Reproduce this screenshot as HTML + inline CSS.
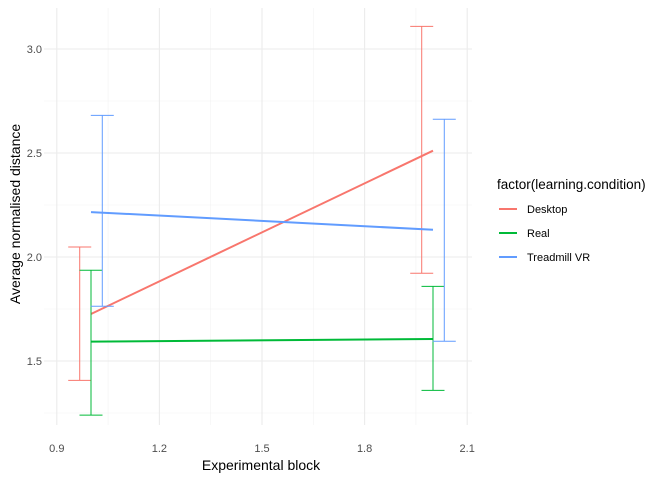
<!DOCTYPE html>
<html><head><meta charset="utf-8"><style>
body{margin:0;background:#fff;font-family:"Liberation Sans",Arial,sans-serif}
</style></head><body>
<svg id="chart" width="672" height="480" xmlns="http://www.w3.org/2000/svg">
<g id="grid"></g>
<g id="marks"></g>
<g id="axes"></g>
<text x="261" y="470" font-size="14" text-anchor="middle" fill="#000">Experimental block</text>
<text transform="translate(20,214) rotate(-90)" font-size="14" text-anchor="middle" fill="#000">Average normalised distance</text>
<g>
<text x="497" y="189" font-size="13.5" fill="#000">factor(learning.condition)</text>
<g id="legend"></g>
</g>
</svg>
<script>
const blocks=[1,2];
const series=["Desktop","Real","Treadmill VR"];
const colors=["#F8766D","#00BA38","#619CFF"];
const desktopMean=[1.726,2.511];
const desktopLow=[1.407,1.922];
const desktopHigh=[2.048,3.109];
const realMean=[1.593,1.606];
const realLow=[1.240,1.359];
const realHigh=[1.936,1.859];
const vrMean=[2.216,2.131];
const vrLow=[1.763,1.595];
const vrHigh=[2.681,2.662];
const xTicks=[0.9,1.2,1.5,1.8,2.1];
const yTicks=[1.5,2.0,2.5,3.0];
const means=[desktopMean,realMean,vrMean];
const lows=[desktopLow,realLow,vrLow];
const highs=[desktopHigh,realHigh,vrHigh];
const dodge=[-0.033,0,0.033];

const NS="http://www.w3.org/2000/svg";
const X=v=>91+(v-1)*342;
const Y=v=>257-(v-2)*208;
const L=44,R=472,T=8,B=425;
function mk(tag,attrs,parent){const e=document.createElementNS(NS,tag);for(const k in attrs)e.setAttribute(k,attrs[k]);parent.appendChild(e);return e;}
const grid=document.getElementById('grid'),marks=document.getElementById('marks'),axes=document.getElementById('axes'),leg=document.getElementById('legend');
for(let i=0;i<xTicks.length-1;i++){const v=(xTicks[i]+xTicks[i+1])/2;const l=mk('line',{x1:X(v),x2:X(v),y1:T,y2:B,stroke:'#f2f2f2','stroke-width':0.6},grid);
}
const yMinor=[1.25,1.75,2.25,2.75];
for(const v of yMinor){const l=mk('line',{x1:L,x2:R,y1:Y(v),y2:Y(v),stroke:'#f2f2f2','stroke-width':0.6},grid);
}
for(const v of xTicks){const l=mk('line',{x1:X(v),x2:X(v),y1:T,y2:B,stroke:'#ebebeb','stroke-width':1.1},grid);

const t=mk('text',{x:X(v),y:452,'font-size':11,'text-anchor':'middle',fill:'#4d4d4d'},axes);t.textContent=v.toFixed(1);
}
for(const v of yTicks){const l=mk('line',{x1:L,x2:R,y1:Y(v),y2:Y(v),stroke:'#ebebeb','stroke-width':1.1},grid);

const t=mk('text',{x:42,y:Y(v)+4,'font-size':11,'text-anchor':'end',fill:'#4d4d4d'},axes);t.textContent=v.toFixed(1);
}
series.forEach((s,i)=>{
  const key=s.toLowerCase().replace(/\s+/g,'-');
  blocks.forEach((b,j)=>{
    const x=X(b+dodge[i]),cw=11.5;
    const g=mk('g',{stroke:colors[i],'stroke-width':1,fill:'none'},marks);
    
    
    mk('line',{x1:x,x2:x,y1:Y(highs[i][j]),y2:Y(lows[i][j])},g);
    mk('line',{x1:x-cw,x2:x+cw,y1:Y(highs[i][j]),y2:Y(highs[i][j])},g);
    mk('line',{x1:x-cw,x2:x+cw,y1:Y(lows[i][j]),y2:Y(lows[i][j])},g);
  });
  const ln=mk('line',{x1:X(blocks[0]),y1:Y(means[i][0]),x2:X(blocks[1]),y2:Y(means[i][1]),stroke:colors[i],'stroke-width':2},marks);
  
  
  const ly=209+i*24;
  const kl=mk('line',{x1:499,x2:517,y1:ly,y2:ly,stroke:colors[i],'stroke-width':2},leg);
  
  
  const lt=mk('text',{x:527,y:ly+4,'font-size':11,fill:'#000'},leg);lt.textContent=s;
  
  
});
</script>
</body></html>
